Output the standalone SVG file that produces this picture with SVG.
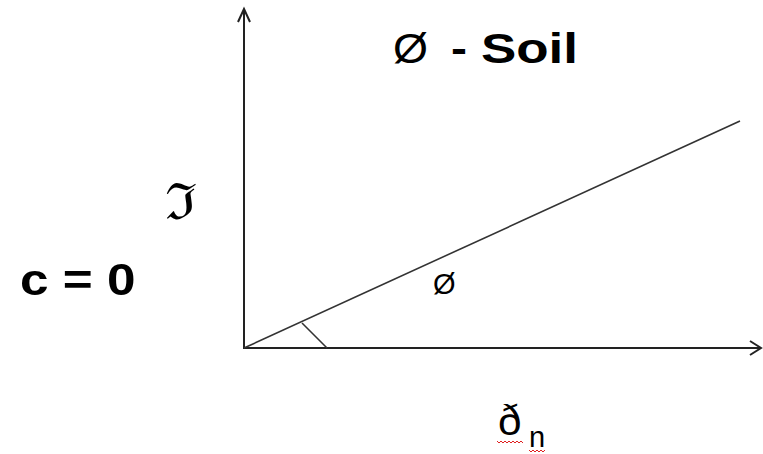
<svg xmlns="http://www.w3.org/2000/svg" width="763" height="454" viewBox="0 0 763 454">
<defs>
<style>
.ax{stroke:#222;stroke-width:2;fill:none}
.ln{stroke:#333;stroke-width:1.6;fill:none}
.b{font-family:"Liberation Sans",Arial,sans-serif;font-weight:bold;fill:#000}
.r{font-family:"Liberation Sans",Arial,sans-serif;fill:#000}
.sq{stroke:#e02020;stroke-width:1;fill:none}
</style>
</defs>
<rect width="763" height="454" fill="#fff"/>
<g id="connectors">
<path class="ax" d="M244,349 V9"/>
<path class="ax" d="M238,22 L244,9 L250,22"/>
<path class="ax" d="M243,348 H761"/>
<path class="ax" d="M750,341 L761,348 L750,355"/>
<path class="ln" d="M244,348 L740,121"/>
<path class="ln" d="M302,323 L327,348"/>
</g>
<g id="title">
<text class="r" x="393" y="63" font-size="42" textLength="35" lengthAdjust="spacingAndGlyphs">Ø</text>
<text class="b" x="451" y="63" font-size="42" textLength="16" lengthAdjust="spacingAndGlyphs">-</text>
<text class="b" x="481" y="63" font-size="42" textLength="97" lengthAdjust="spacingAndGlyphs">Soil</text>
</g>
<g id="tau">
<text x="165" y="219" font-size="50" font-family="'DejaVu Serif',serif" fill="#000" textLength="32" lengthAdjust="spacingAndGlyphs">ℑ</text>
</g>
<g id="c0">
<text class="b" x="0" y="0" font-size="45" transform="translate(20,295) scale(1.14,1)">c = 0</text>
</g>
<g id="phi">
<text class="r" x="433" y="294" font-size="29">Ø</text>
</g>
<g id="sigma">
<text class="r" x="498" y="435" font-size="42">ð</text>
<text class="r" x="529" y="447" font-size="29">n</text>
<path class="sq" d="M497,441 l2,2 l2,-2 l2,2 l2,-2 l2,2 l2,-2 l2,2 l2,-2 l2,2 l2,-2 l2,2 l2,-2 l2,2"/>
<path class="sq" d="M529,450 l2,2 l2,-2 l2,2 l2,-2 l2,2 l2,-2 l2,2 l2,-2"/>
</g>
</svg>
